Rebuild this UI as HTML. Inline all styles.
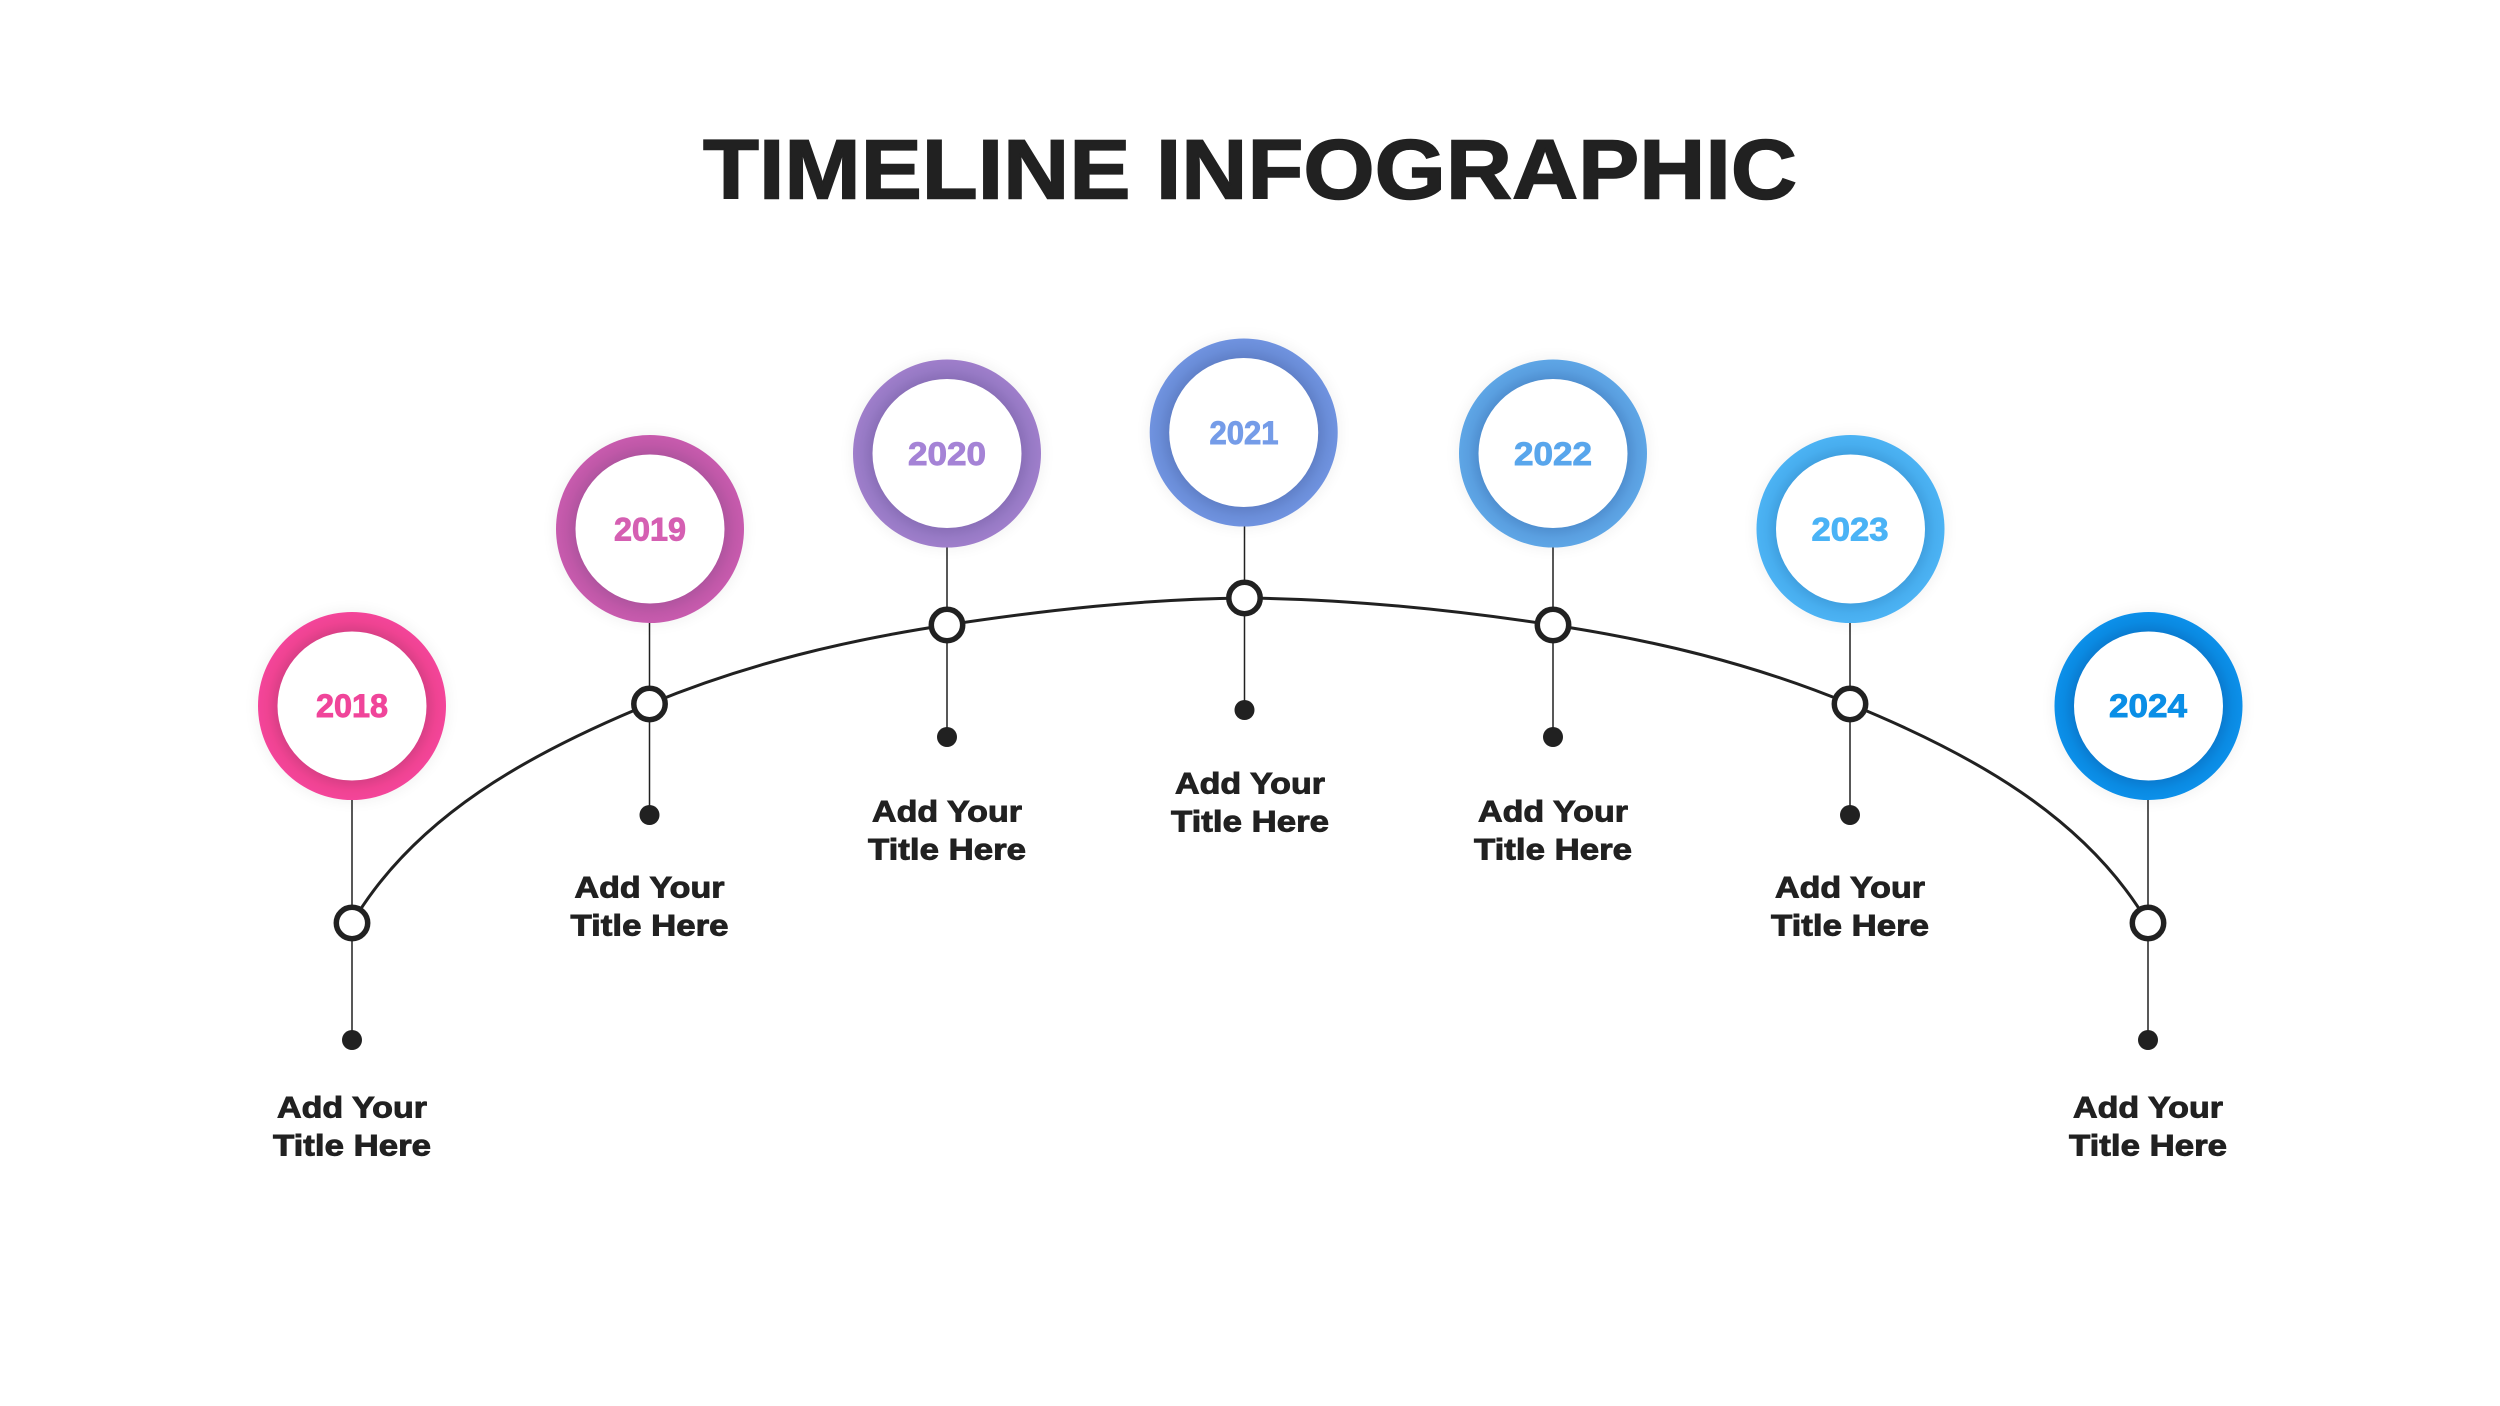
<!DOCTYPE html>
<html><head><meta charset="utf-8"><style>
html,body{margin:0;padding:0;background:#fff}
svg{display:block}
text{font-family:"Liberation Sans",sans-serif;font-weight:700}
.l{font-size:30px;fill:#212121;stroke:#212121;stroke-width:.9;text-anchor:middle}
.y{font-size:32px;text-anchor:middle;stroke-width:.9}
</style></head><body>
<svg width="2500" height="1406" viewBox="0 0 2500 1406" xmlns="http://www.w3.org/2000/svg">
<defs>
<filter id="b" x="-30%" y="-30%" width="160%" height="160%"><feGaussianBlur stdDeviation="7"/></filter>
<radialGradient id="g0"><stop offset=".79" stop-color="#d93f86"/><stop offset=".9" stop-color="#ef4392"/><stop offset="1" stop-color="#f4459a"/></radialGradient>
<radialGradient id="g1"><stop offset=".79" stop-color="#b0549f"/><stop offset=".9" stop-color="#c058a8"/><stop offset="1" stop-color="#c85bae"/></radialGradient>
<radialGradient id="g2"><stop offset=".79" stop-color="#8a6fb8"/><stop offset=".9" stop-color="#977ac5"/><stop offset="1" stop-color="#9f7ecb"/></radialGradient>
<radialGradient id="g3"><stop offset=".79" stop-color="#6080c8"/><stop offset=".9" stop-color="#6a8dd8"/><stop offset="1" stop-color="#7093e0"/></radialGradient>
<radialGradient id="g4"><stop offset=".79" stop-color="#4f8fd0"/><stop offset=".9" stop-color="#5a9fe0"/><stop offset="1" stop-color="#5ea6e6"/></radialGradient>
<radialGradient id="g5"><stop offset=".79" stop-color="#40a0e0"/><stop offset=".9" stop-color="#48aeef"/><stop offset="1" stop-color="#4cb3f4"/></radialGradient>
<radialGradient id="g6"><stop offset=".79" stop-color="#0a7bd0"/><stop offset=".9" stop-color="#0a8ae2"/><stop offset="1" stop-color="#0c90ea"/></radialGradient>
</defs>
<rect width="2500" height="1406" fill="#fff"/>
<text x="1250" y="198.500" font-size="84" text-anchor="middle" textLength="1094" lengthAdjust="spacingAndGlyphs" fill="#212121" stroke="#212121" stroke-width="1.5">TIMELINE INFOGRAPHIC</text>

<!-- stems -->
<g stroke="#212121" stroke-width="1.500" fill="none">
<path d="M352 800V1040"/><path d="M649.500 623V815"/><path d="M947 547V737"/><path d="M1244.500 526V710"/><path d="M1553 547V737"/><path d="M1850 623V815"/><path d="M2148 800V1040"/>
</g>

<!-- arc -->
<path d="M352 923C415 816 530 753 649.500 704C749 663 848 640 947 625C1046 610 1145 599 1244.500 598C1350 599 1454 610 1553 625C1652 640 1751 663 1850 704C1970 753 2085 816 2148 923" fill="none" stroke="#212121" stroke-width="3"/>

<!-- rings -->
<g>
<circle cx="352" cy="706" r="96" fill="#000" opacity=".05" filter="url(#b)"/>
<circle cx="650" cy="529" r="96" fill="#000" opacity=".05" filter="url(#b)"/>
<circle cx="947" cy="453.500" r="96" fill="#000" opacity=".05" filter="url(#b)"/>
<circle cx="1243.700" cy="432.500" r="96" fill="#000" opacity=".05" filter="url(#b)"/>
<circle cx="1553" cy="453.500" r="96" fill="#000" opacity=".05" filter="url(#b)"/>
<circle cx="1850.500" cy="529" r="96" fill="#000" opacity=".05" filter="url(#b)"/>
<circle cx="2148.500" cy="706" r="96" fill="#000" opacity=".05" filter="url(#b)"/>
<circle cx="352" cy="706" r="94" fill="url(#g0)"/><circle cx="352" cy="706" r="74.500" fill="#fff"/>
<circle cx="650" cy="529" r="94" fill="url(#g1)"/><circle cx="650" cy="529" r="74.500" fill="#fff"/>
<circle cx="947" cy="453.500" r="94" fill="url(#g2)"/><circle cx="947" cy="453.500" r="74.500" fill="#fff"/>
<circle cx="1243.700" cy="432.500" r="94" fill="url(#g3)"/><circle cx="1243.700" cy="432.500" r="74.500" fill="#fff"/>
<circle cx="1553" cy="453.500" r="94" fill="url(#g4)"/><circle cx="1553" cy="453.500" r="74.500" fill="#fff"/>
<circle cx="1850.500" cy="529" r="94" fill="url(#g5)"/><circle cx="1850.500" cy="529" r="74.500" fill="#fff"/>
<circle cx="2148.500" cy="706" r="94" fill="url(#g6)"/><circle cx="2148.500" cy="706" r="74.500" fill="#fff"/>
</g>

<!-- years -->
<text class="y" x="352" y="717" textLength="72" lengthAdjust="spacingAndGlyphs" fill="#f0459a" stroke="#f0459a">2018</text>
<text class="y" x="650" y="540.500" textLength="72" lengthAdjust="spacingAndGlyphs" fill="#d55fb2" stroke="#d55fb2">2019</text>
<text class="y" x="947" y="465" textLength="78" lengthAdjust="spacingAndGlyphs" fill="#a583d6" stroke="#a583d6">2020</text>
<text class="y" x="1244" y="444" textLength="69" lengthAdjust="spacingAndGlyphs" fill="#759ce8" stroke="#759ce8">2021</text>
<text class="y" x="1553" y="465" textLength="78" lengthAdjust="spacingAndGlyphs" fill="#59a6ec" stroke="#59a6ec">2022</text>
<text class="y" x="1850" y="540.500" textLength="77" lengthAdjust="spacingAndGlyphs" fill="#4ab3f6" stroke="#4ab3f6">2023</text>
<text class="y" x="2148" y="717" textLength="78" lengthAdjust="spacingAndGlyphs" fill="#0a8ee6" stroke="#0a8ee6">2024</text>

<!-- nodes -->
<g fill="#fff" stroke="#212121" stroke-width="5.500">
<circle cx="352" cy="923" r="15.700"/><circle cx="649.500" cy="704" r="15.700"/><circle cx="947" cy="625" r="15.700"/><circle cx="1244.500" cy="598" r="15.700"/><circle cx="1553" cy="625" r="15.700"/><circle cx="1850" cy="704" r="15.700"/><circle cx="2148" cy="923" r="15.700"/>
</g>
<!-- dots -->
<g fill="#212121">
<circle cx="352" cy="1040" r="10"/><circle cx="649.500" cy="815" r="10"/><circle cx="947" cy="737" r="10"/><circle cx="1244.500" cy="710" r="10"/><circle cx="1553" cy="737" r="10"/><circle cx="1850" cy="815" r="10"/><circle cx="2148" cy="1040" r="10"/>
</g>

<!-- labels -->
<g>
<text class="l" x="352" y="1117.500" textLength="150" lengthAdjust="spacingAndGlyphs">Add Your</text><text class="l" x="352" y="1155.500" textLength="158" lengthAdjust="spacingAndGlyphs">Title Here</text>
<text class="l" x="649.500" y="897.500" textLength="150" lengthAdjust="spacingAndGlyphs">Add Your</text><text class="l" x="649.500" y="935.500" textLength="158" lengthAdjust="spacingAndGlyphs">Title Here</text>
<text class="l" x="947" y="821.500" textLength="150" lengthAdjust="spacingAndGlyphs">Add Your</text><text class="l" x="947" y="859.500" textLength="158" lengthAdjust="spacingAndGlyphs">Title Here</text>
<text class="l" x="1250" y="793.500" textLength="150" lengthAdjust="spacingAndGlyphs">Add Your</text><text class="l" x="1250" y="831.500" textLength="158" lengthAdjust="spacingAndGlyphs">Title Here</text>
<text class="l" x="1553" y="821.500" textLength="150" lengthAdjust="spacingAndGlyphs">Add Your</text><text class="l" x="1553" y="859.500" textLength="158" lengthAdjust="spacingAndGlyphs">Title Here</text>
<text class="l" x="1850" y="897.500" textLength="150" lengthAdjust="spacingAndGlyphs">Add Your</text><text class="l" x="1850" y="935.500" textLength="158" lengthAdjust="spacingAndGlyphs">Title Here</text>
<text class="l" x="2148" y="1117.500" textLength="150" lengthAdjust="spacingAndGlyphs">Add Your</text><text class="l" x="2148" y="1155.500" textLength="158" lengthAdjust="spacingAndGlyphs">Title Here</text>
</g>
</svg>
</body></html>
